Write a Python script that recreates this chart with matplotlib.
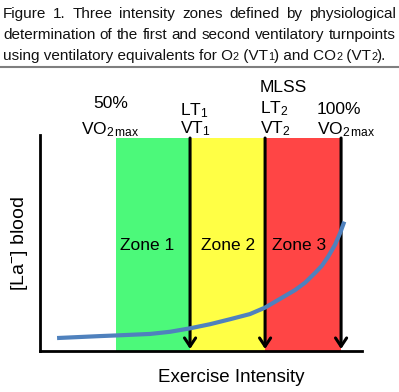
import matplotlib
matplotlib.use('Agg')
import matplotlib.pyplot as plt
import numpy as np

plt.rcParams['font.family'] = ['Liberation Sans', 'DejaVu Sans']
plt.rcParams['mathtext.fontset'] = 'custom'
plt.rcParams['mathtext.rm'] = 'Liberation Sans'
plt.rcParams['mathtext.it'] = 'Liberation Sans:italic'

# --- data ---
caption_1 = "Figure 1. Three intensity zones defined by physiological"
caption_2 = "determination of the first and second ventilatory turnpoints"
caption_3 = [("using ventilatory equivalents for O", False), ("2", True), (" (VT", False),
             ("1", True), (") and CO", False), ("2", True), (" (VT", False), ("2", True), (").", False)]

zone_names = ['Zone 1', 'Zone 2', 'Zone 3']
zone_edges = [23.6, 46.6, 69.9, 93.5]
zone_colors = ['#4cf97a', '#ffff45', '#ff4545']
zone_top = 98.6

# labels above each boundary: (text, x, y, ha)
threshold_labels = [
    ('50%', 21.9, 114.8, 'center'),
    (r'$\mathregular{VO_{2\,max}}$', 21.9, 102.6, 'center'),
    (r'$\mathregular{LT_1}$', 43.5, 111.2, 'left'),
    (r'$\mathregular{VT_1}$', 43.5, 102.8, 'left'),
    ('MLSS', 68.3, 122.2, 'left'),
    (r'$\mathregular{LT_2}$', 68.3, 112.0, 'left'),
    (r'$\mathregular{VT_2}$', 68.3, 102.8, 'left'),
    ('100%', 86.0, 111.6, 'left'),
    (r'$\mathregular{VO_{2\,max}}$', 86.0, 102.6, 'left'),
]

intensity = [5.3, 18.6, 23.6, 34.2, 40.4, 46.6, 52.8, 59.0, 65.2, 69.9, 73.0, 76.1,
             79.2, 82.3, 85.4, 87.5, 89.5, 91.6, 93.2, 94.5]
lactate = [6.0, 6.9, 7.2, 7.9, 8.9, 10.5, 12.4, 14.7, 17.1, 20.1, 22.8, 25.5,
           28.2, 31.6, 36.1, 39.4, 43.7, 49.1, 54.6, 59.9]

W, H = 399, 392
fig = plt.figure(figsize=(W / 100, H / 100), dpi=100)
renderer = fig.canvas.get_renderer()

# caption: size it so the longest line fills the width, then justify
cap_family = ['Liberation Sans Narrow', 'Liberation Sans', 'DejaVu Sans']
probe = fig.text(0, 0, caption_2, fontsize=10, family=cap_family)
cap_size = 10 * 393 / probe.get_window_extent(renderer).width
probe.remove()
cap_kw = dict(fontsize=cap_size, family=cap_family, va='baseline', ha='left', color='#111111')


def justify(line, ypx, x0=3, x1=396):
    words = line.split()
    texts = [fig.text(0, 1 - ypx / H, w, **cap_kw) for w in words]
    widths = [t.get_window_extent(renderer).width for t in texts]
    gap = (x1 - x0 - sum(widths)) / (len(words) - 1)
    x = x0
    for t, w in zip(texts, widths):
        t.set_x(x / W)
        x += w + gap


justify(caption_1, 18)
justify(caption_2, 39)
x = 3 / W
for s, sub in caption_3:
    kw = dict(cap_kw)
    if sub:
        kw['fontsize'] = cap_size * 0.72
    t = fig.text(x, 1 - 60 / H, s, **kw)
    x += t.get_window_extent(renderer).width / W
fig.add_artist(plt.Line2D([0, 1], [1 - 67 / H, 1 - 67 / H], color='#7f7f7f', lw=1.5))

# main axes
ax = fig.add_axes([40 / W, 41 / H, 322 / W, 216 / H])
ax.set_xlim(0, 100)
ax.set_ylim(0, 100)

lefts = zone_edges[:-1]
widths = np.diff(zone_edges)
ax.bar(lefts, zone_top, width=widths, align='edge', color=zone_colors, zorder=1)
zone_label_x = [33.2, 58.4, 80.3]
for name, lx in zip(zone_names, zone_label_x):
    ax.text(lx, 49, name, ha='center', va='center', fontsize=12.5, zorder=4)

for xe in zone_edges[1:]:
    ax.annotate('', xy=(xe, 0.9), xytext=(xe, zone_top),
                arrowprops=dict(arrowstyle='->,head_length=0.6,head_width=0.4', lw=2.2,
                                color='black', shrinkA=0, shrinkB=0), zorder=3)

ax.plot(intensity, lactate, color='#4f81bd', lw=3, solid_capstyle='butt',
        solid_joinstyle='round', zorder=5)

for lab, lx, ly, ha in threshold_labels:
    ax.text(lx, ly, lab, ha=ha, va='center', fontsize=12.5, clip_on=False)

for side in ['top', 'right']:
    ax.spines[side].set_visible(False)
for side in ['left', 'bottom']:
    ax.spines[side].set_linewidth(2)
ax.set_xticks([])
ax.set_yticks([])

ax.set_xlabel('Exercise Intensity', fontsize=13.5)
ax.xaxis.set_label_coords(0.593, -0.085)
ax.set_ylabel(r'[La$^{-}$] blood', fontsize=14, labelpad=7)

fig.savefig('out.png', dpi=100)
